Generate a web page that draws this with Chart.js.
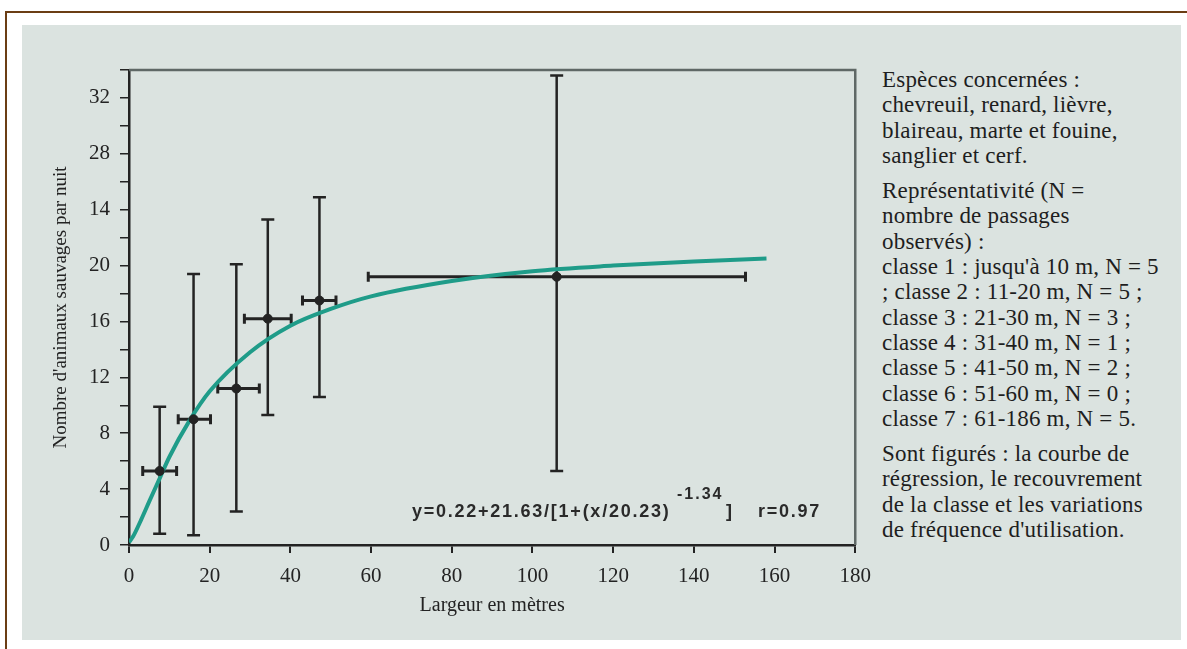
<!DOCTYPE html>
<html>
<head>
<meta charset="utf-8">
<script src="https://cdn.jsdelivr.net/npm/chart.js@4.4.1/dist/chart.umd.min.js"></script>
<style>
  body { margin: 0; width: 1187px; height: 649px; overflow: hidden; position: relative; background: #fff;
         font-family: "Liberation Serif", "DejaVu Serif", serif; color: #1e1e1e; }
  #frame { position: absolute; left: 5px; top: 11px; right: 0; bottom: 0;
           border-top: 2px solid #6b3d14; border-left: 2px solid #6b3d14; }
  #panel { position: absolute; left: 22px; top: 25px; width: 1159px; height: 615px; background: #dbe3e0; }
  #wrap  { position: absolute; left: 22px; top: 25px; width: 860px; height: 600px; }
  #notes { position: absolute; left: 882px; top: 67px; width: 305px; font-size: 23px; line-height: 25.3px;
           letter-spacing: 0.2px; white-space: nowrap; }
  #notes p { margin: 0 0 10px 0; }
  .eq { position: absolute; font: bold 18px "Liberation Sans", Arial, sans-serif; color: #2a2a2a;
        white-space: nowrap; letter-spacing: 1.75px; }
</style>
</head>
<body>
<div id="frame"></div>
<div id="panel"></div>
<div id="wrap"><canvas id="chart" width="860" height="600"></canvas></div>

<div class="eq" style="left:412px; top:501px;">y=0.22+21.63/[1+(x/20.23)</div>
<div class="eq" style="left:677px; top:485px; font-size:16px; letter-spacing:2px;">-1.34</div>
<div class="eq" style="left:726px; top:501px;">]</div>
<div class="eq" style="left:758px; top:501px;">r=0.97</div>

<div id="notes">
  <p>Espèces concernées :<br>chevreuil, renard, lièvre,<br>blaireau, marte et fouine,<br>sanglier et cerf.</p>
  <p>Représentativité (N =<br>nombre de passages<br>observés) :<br>classe 1 : jusqu'à 10 m, N = 5<br>; classe 2 : 11-20 m, N = 5 ;<br>classe 3 : 21-30 m, N = 3 ;<br>classe 4 : 31-40 m, N = 1 ;<br>classe 5 : 41-50 m, N = 2 ;<br>classe 6 : 51-60 m, N = 0 ;<br>classe 7 : 61-186 m, N = 5.</p>
  <p>Sont figurés : la courbe de<br>régression, le recouvrement<br>de la classe et les variations<br>de fréquence d'utilisation.</p>
</div>

<script>
// --- données --------------------------------------------------------
const classX   = [7.6, 16.0, 26.6, 34.4, 47.2, 106.0];   // centre de classe (m)
const classY   = [5.3, 9.0, 11.2, 16.2, 17.5, 19.2];     // animaux / nuit
const classXlo = [3.4, 12.2, 22.0, 28.6, 43.0, 59.3];    // recouvrement de la classe
const classXhi = [11.8, 20.2, 32.3, 40.2, 51.3, 152.8];
const classYlo = [0.8, 0.7, 2.4, 9.3, 10.6, 5.3];        // variations
const classYhi = [9.9, 19.4, 20.1, 23.3, 24.9, 33.6];

// courbe de régression (relevée point par point)
const curveX = [0, 1, 3, 5, 7.5, 10, 15, 20, 30, 40, 50, 60, 80, 100, 120, 140, 158];
const curveY = [0.2, 0.6, 1.8, 3.1, 4.7, 6.3, 8.9, 11.0, 13.8, 15.7, 16.9, 17.8, 18.9, 19.6, 20.0, 20.3, 20.5];

// graduations (le « 14 » à la place de 24 est dans l'original)
const yTickValues = [0, 4, 8, 12, 16, 20, 24, 28, 32];
const yTickText   = ["0", "4", "8", "12", "16", "20", "14", "28", "32"];

const INK = "#232323";
const TEAL = "#1f9c89";

// cadre haut + droite de la zone de tracé
const boxPlugin = {
  id: "box",
  afterDatasetsDraw(chart) {
    const { ctx, chartArea: a } = chart;
    ctx.save();
    ctx.strokeStyle = "#5f6866";
    ctx.lineWidth = 2.5;
    ctx.beginPath();
    ctx.moveTo(a.left, a.top); ctx.lineTo(a.right, a.top); ctx.lineTo(a.right, a.bottom);
    ctx.stroke();
    ctx.restore();
  },
};

const datasets = [];
// barres verticales (variations) et horizontales (recouvrement)
classX.forEach((x, i) => {
  datasets.push({
    data: [{ x, y: classYlo[i] }, { x, y: classYhi[i] }],
    showLine: true, borderColor: INK, borderWidth: 2.5,
    pointStyle: "line", pointRadius: 6.5, pointBorderColor: INK, pointBorderWidth: 2.5, order: 2,
  });
  datasets.push({
    data: [{ x: classXlo[i], y: classY[i] }, { x: classXhi[i], y: classY[i] }],
    showLine: true, borderColor: INK, borderWidth: 3,
    pointStyle: "line", rotation: 90, pointRadius: 5, pointBorderColor: INK, pointBorderWidth: 3, order: 2,
  });
});
datasets.push({
  data: curveX.map((x, i) => ({ x, y: curveY[i] })),
  showLine: true, borderColor: TEAL, borderWidth: 4, pointRadius: 0,
  cubicInterpolationMode: "monotone", order: 1,
});
datasets.push({
  data: classX.map((x, i) => ({ x, y: classY[i] })),
  pointStyle: "circle", pointRadius: 4.5, backgroundColor: INK, borderColor: INK, order: 0,
});

Chart.defaults.font.family = '"Liberation Serif", "DejaVu Serif", serif';
Chart.defaults.color = INK;

new Chart(document.getElementById("chart"), {
  type: "scatter",
  data: { datasets },
  options: {
    responsive: false,
    animation: false,
    layout: { padding: { top: 45, right: 26, bottom: 0, left: 0 } },
    plugins: { legend: { display: false }, tooltip: { enabled: false } },
    scales: {
      x: {
        type: "linear", min: 0, max: 180,
        afterFit: (s) => { s.height = 80; },
        ticks: { stepSize: 20, font: { size: 21 }, padding: 11, maxRotation: 0 },
        grid: { drawOnChartArea: false, drawTicks: true, tickLength: 8, color: INK, lineWidth: 2 },
        border: { display: true, color: INK, width: 2.5 },
        title: { display: true, text: "Largeur en mètres", font: { size: 20 }, padding: { top: 0, bottom: 7 } },
      },
      y: {
        type: "linear", min: 0, max: 34,
        afterFit: (s) => { s.width = 107; },
        ticks: {
          stepSize: 2, font: { size: 21 }, padding: 10, autoSkip: false,
          callback: (v) => { const i = yTickValues.indexOf(v); return i >= 0 ? yTickText[i] : ""; },
        },
        grid: { drawOnChartArea: false, drawTicks: true, tickLength: 9, color: INK, lineWidth: 1.5 },
        border: { display: true, color: INK, width: 2.5 },
        title: { display: true, text: "Nombre d'animaux sauvages par nuit", font: { size: 19 }, padding: { top: 28, bottom: 0 } },
      },
    },
  },
  plugins: [boxPlugin],
});
</script>
</body>
</html>
